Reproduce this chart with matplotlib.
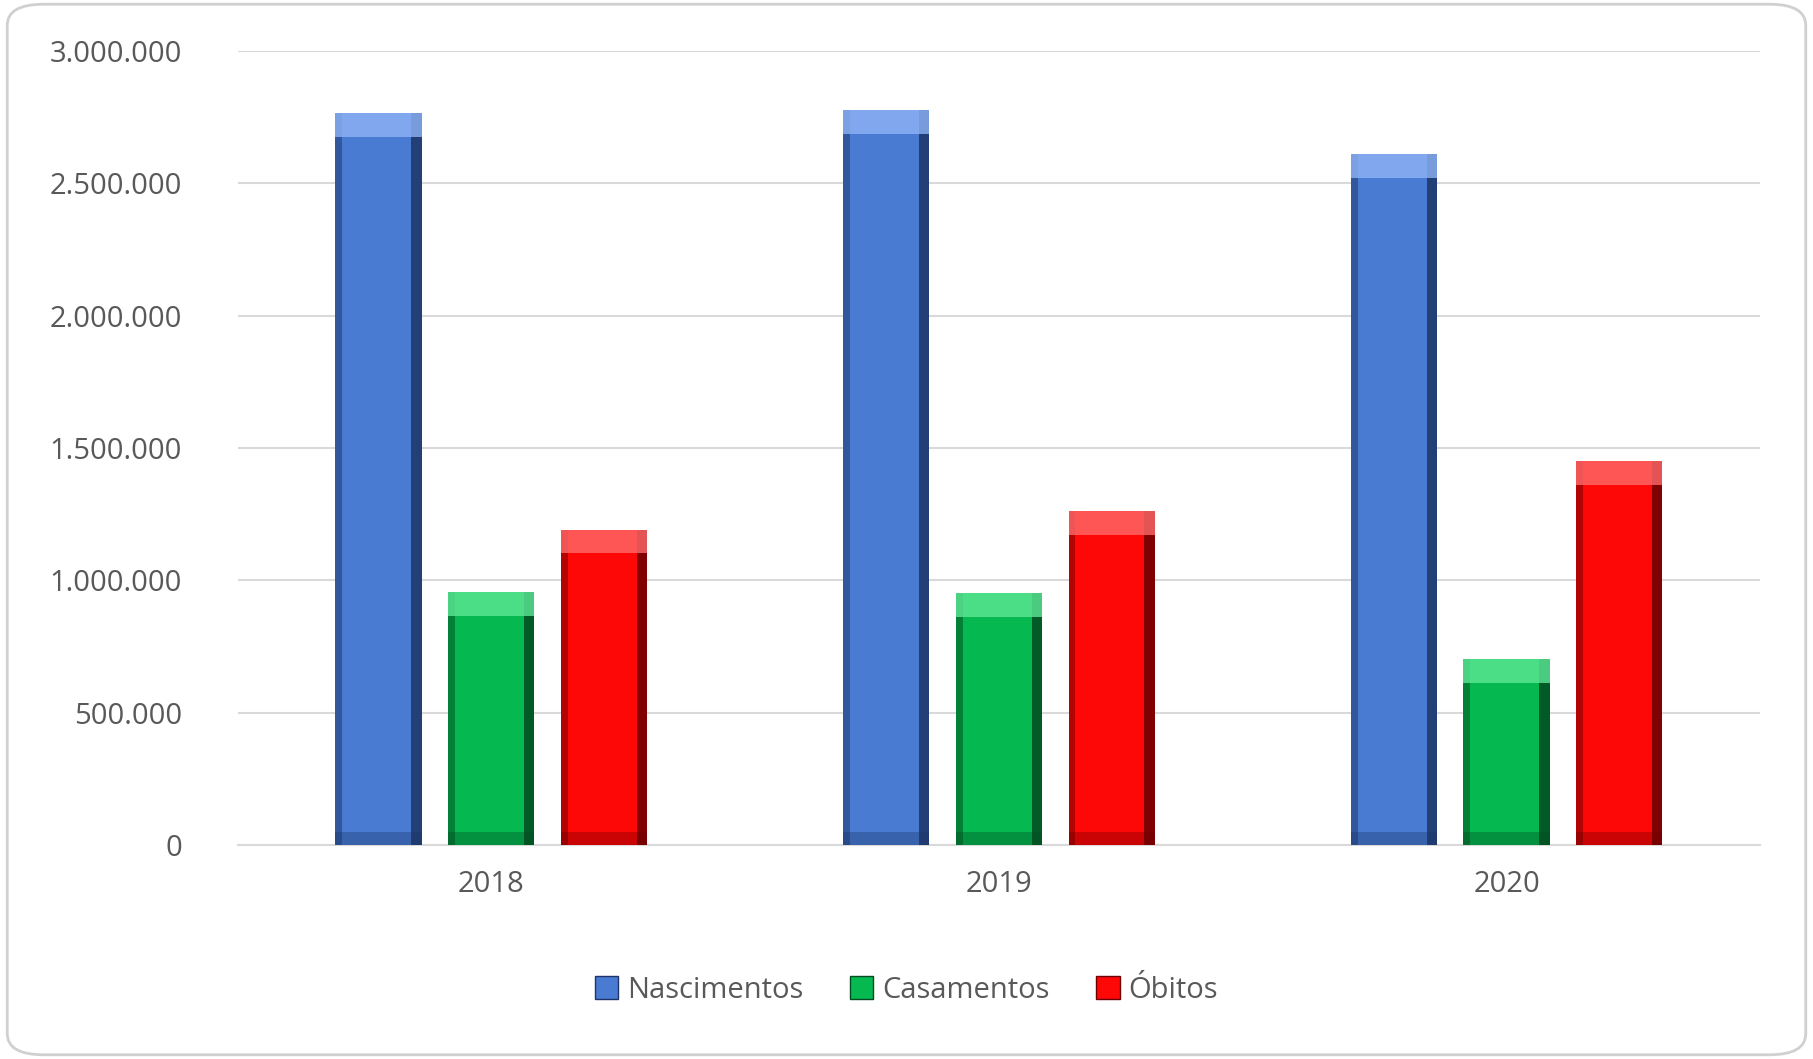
import numpy as np
import matplotlib.pyplot as plt
from matplotlib.patches import FancyBboxPatch, Patch
from matplotlib.ticker import FuncFormatter

years = ['2018', '2019', '2020']
nascimentos = [2764000, 2777000, 2611000]
casamentos = [956000, 952000, 703000]
obitos = [1192000, 1262000, 1450000]

series = [('Nascimentos', nascimentos, '#4a7bd3', '#1c3566', '#8fb4f5'),
          ('Casamentos', casamentos, '#06b850', '#024a20', '#5ee896'),
          ('Óbitos', obitos, '#fe0707', '#6a0000', '#ff6a6a')]

plt.rcParams['font.family'] = ['Open Sans', 'DejaVu Sans']
fig = plt.figure(figsize=(18.13, 10.59), dpi=100)
fig.patches.append(FancyBboxPatch((0.004, 0.004), 0.992, 0.992, boxstyle='round,pad=0,rounding_size=0.02',
                                  transform=fig.transFigure, fc='white', ec='#d0d0d0', lw=2, zorder=-5))
ax = fig.add_axes([0.131, 0.202, 0.84, 0.75])
ax.set_zorder(2)
ax.set_facecolor('none')

x = np.arange(len(years))
w = 0.17
offsets = [-0.222, 0, 0.222]
for (name, vals, c, dark, light), off in zip(series, offsets):
    xs = x + off
    ax.bar(xs, vals, w, color=c, zorder=3)
    # bevel: dark sides, light top, dark bottom
    ax.bar(xs + w * 0.44, vals, w * 0.12, color=dark, alpha=0.85, zorder=4)
    ax.bar(xs - w * 0.46, vals, w * 0.08, color=dark, alpha=0.5, zorder=4)
    top = np.array(vals)
    ax.bar(xs, [90000] * 3, w, bottom=top - 90000, color=light, alpha=0.8, zorder=4)
    ax.bar(xs, [50000] * 3, w, color=dark, alpha=0.35, zorder=4)

ax.set_xlim(-0.5, 2.5)
ax.set_ylim(0, 3000000)
ax.set_yticks(np.arange(0, 3000001, 500000))
ax.yaxis.set_major_formatter(FuncFormatter(lambda v, p: f'{int(v):,}'.replace(',', '.')))
ax.set_xticks(x)
ax.set_xticklabels(years)
ax.grid(axis='y', color='#d9d9d9', lw=1.5, zorder=0)
for s in ['top', 'right', 'left']:
    ax.spines[s].set_visible(False)
ax.spines['bottom'].set_color('#d9d9d9')
ax.spines['bottom'].set_linewidth(1.5)
ax.tick_params(length=0, labelsize=21, colors='#595959', pad=18)
ax.tick_params(axis='y', pad=40)

handles = [Patch(facecolor=c, edgecolor=dark, label=n) for n, _, c, dark, _ in series]
fig.legend(handles=handles, loc='center', bbox_to_anchor=(0.5, 0.065), ncol=3, frameon=False,
           fontsize=21, labelcolor='#595959', handlelength=0.8, handleheight=0.8,
           handletextpad=0.3, columnspacing=1.6)
fig.savefig('out.png', dpi=100)
